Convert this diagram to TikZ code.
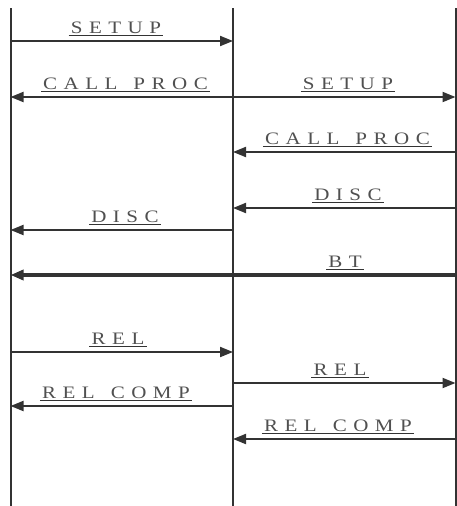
\documentclass[tikz,border=0pt]{standalone}
\usepackage{fontspec}
\setmainfont{Liberation Serif}
\newfontfamily\lblfont[FakeStretch=1.2]{Liberation Serif}
\usetikzlibrary{arrows.meta}
\definecolor{ink}{HTML}{333333}
\definecolor{txt}{HTML}{505050}
\newcommand\ls{\hspace{6.5pt}}
\newcommand\wsp{\hspace{16pt}}
\tikzset{
  life/.style={draw=ink, line width=2pt},
  msg/.style={draw=ink, line width=2pt, -{Triangle[length=13pt,width=10pt]}},
  bigmsg/.style={draw=ink, line width=4.5pt, -{Triangle[length=13pt,width=10pt]}},
  lbl/.style={text=txt, inner xsep=2pt, inner ysep=0pt, anchor=base,
    font=\lblfont\fontsize{17.5}{20}\selectfont},
  uline/.style={draw=ink, line width=1pt}
}
\newcommand\ulabel[4]{% name, x, y(baseline), text
  \node[lbl] (#1) at (#2,#3) {#4};
  \draw[uline] ([yshift=-2pt]#1.base west) -- ([yshift=-2pt]#1.base east);
}
\begin{document}
\begin{tikzpicture}[x=1pt,y=-1pt]
\useasboundingbox (0,0) rectangle (457,506);
% lifelines
\coordinate (Lt) at (10.5,8);  \coordinate (Lb) at (10.5,506);
\coordinate (Mt) at (233,8);   \coordinate (Mb) at (233,506);
\coordinate (Rt) at (455.5,8); \coordinate (Rb) at (455.5,506);
\draw[life] (Lt) -- (Lb);
\draw[life] (Mt) -- (Mb);
\draw[life] (Rt) -- (Rb);
% message end points
\foreach \n/\y in {1/41,2/97,3/97,4/152,5/208,6/230,7/275,8/352,9/383,10/406,11/439}{
  \coordinate (L\n) at (10.5,\y);
  \coordinate (M\n) at (233,\y);
  \coordinate (R\n) at (455.5,\y);
}
\draw[msg] (L1) -- (M1);
\draw[msg] (M2) -- (L2);
\draw[msg] (M3) -- (R3);
\draw[msg] (R4) -- (M4);
\draw[msg] (R5) -- (M5);
\draw[msg] (M6) -- (L6);
\draw[bigmsg] (R7) -- (L7);
\draw[msg] (L8) -- (M8);
\draw[msg] (M9) -- (R9);
\draw[msg] (M10) -- (L10);
\draw[msg] (R11) -- (M11);
% labels
\ulabel{t1}{116}{33}{S\ls E\ls T\ls U\ls P}
\ulabel{t2}{125.5}{89}{C\ls A\ls L\ls L\wsp P\ls R\ls O\ls C}
\ulabel{t3}{348}{89}{S\ls E\ls T\ls U\ls P}
\ulabel{t4}{347.5}{144}{C\ls A\ls L\ls L\wsp P\ls R\ls O\ls C}
\ulabel{t5}{348}{200}{D\ls I\ls S\ls C}
\ulabel{t6}{125}{222}{D\ls I\ls S\ls C}
\ulabel{t7}{345}{267}{B\ls T}
\ulabel{t8}{118}{344}{R\ls E\ls L}
\ulabel{t9}{340}{375}{R\ls E\ls L}
\ulabel{t10}{116}{398}{R\ls E\ls L\wsp C\ls O\ls M\ls P}
\ulabel{t11}{338}{431}{R\ls E\ls L\wsp C\ls O\ls M\ls P}
\end{tikzpicture}
\end{document}
